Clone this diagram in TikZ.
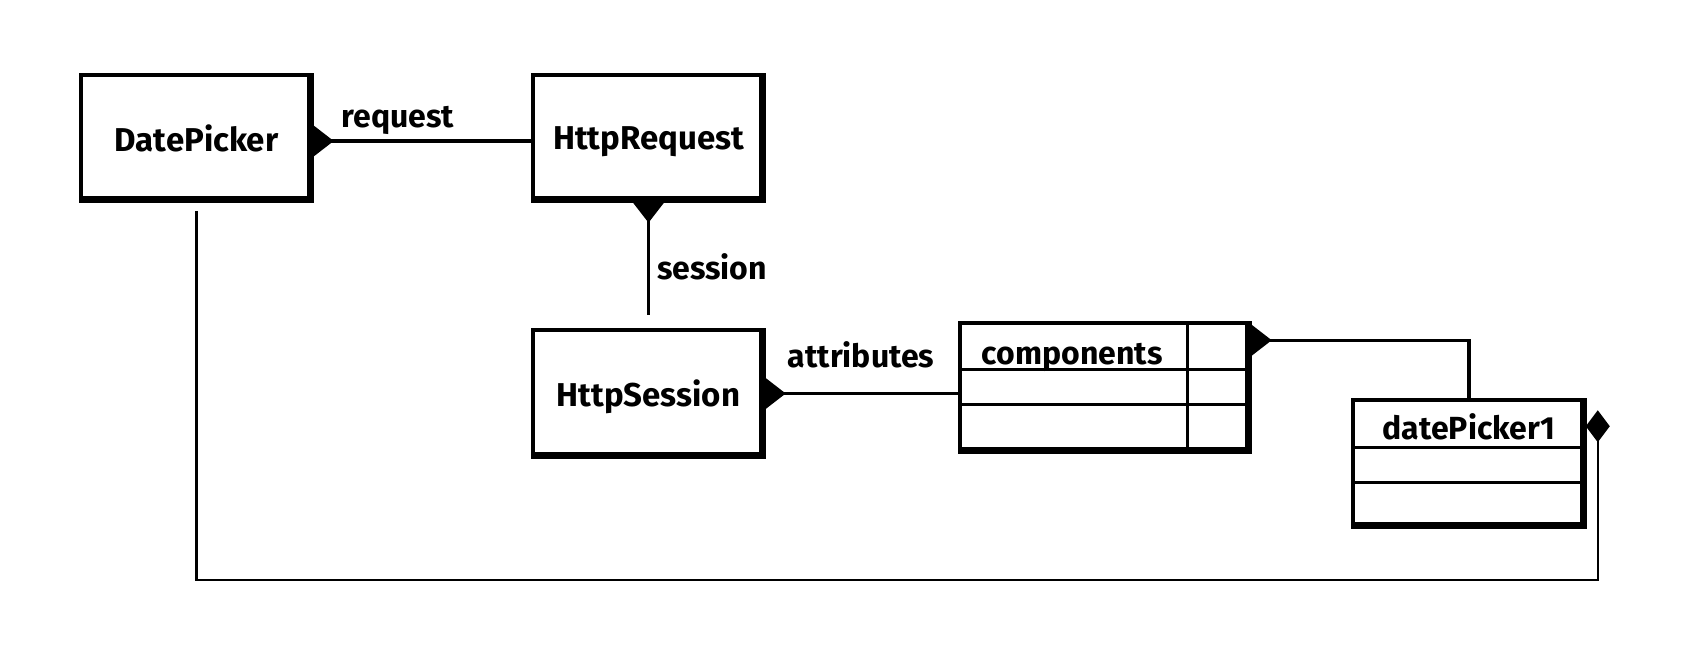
\documentclass[tikz,border=0pt]{standalone}
\usepackage{fontspec}
\setmainfont{Fira Sans}
\usetikzlibrary{arrows.meta}
\tikzset{
 box/.style={draw, line width=3.5pt, minimum width=231pt, minimum height=126pt, inner sep=0pt, text depth=0pt, font=\fontsize{33}{36}\selectfont\bfseries},
 lbl/.style={font=\fontsize{32}{34}\selectfont\bfseries, inner sep=0pt},
 conn/.style={line width=3.5pt},
 outer/.style={line width=2.5pt},
 shade/.style={line width=7pt, line cap=rect},
 rowline/.style={line width=3pt},
 tri/.style={{Triangle[reversed,length=20pt,width=30pt]}-},
 dia/.style={-{Diamond[length=32pt,width=24pt]}},
}
\begin{document}
\begin{tikzpicture}[x=1pt,y=-1pt]
\useasboundingbox (0,0) rectangle (1687,658);
\fill[white] (0,0) rectangle (1687,658);
% boxes
\node[box] (dp) at (196.5,138) {DatePicker};
\node[box] (hreq) at (648.5,138) {HttpRequest};
\node[box, minimum height=127pt] (hses) at (648.5,393.5) {HttpSession};
\node[box, minimum width=290pt, minimum height=129pt] (comp) at (1105,387.5) {};
\node[box, minimum width=232pt, minimum height=127pt] (dp1) at (1469,463.5) {};
\foreach \n in {dp,hreq,hses,comp,dp1}
  \draw[shade] ([xshift=-3pt,yshift=-3pt]\n.north east) -- ([xshift=-3pt,yshift=3pt]\n.south east) -- ([xshift=3pt,yshift=3pt]\n.south west);
% table internals
\draw[rowline] ([yshift=-48pt]comp.north west) -- ([yshift=-48pt]comp.north east);
\draw[rowline] ([yshift=-83pt]comp.north west) -- ([yshift=-83pt]comp.north east);
\draw[rowline] ([xshift=229pt]comp.north west) -- ([xshift=229pt]comp.south west);
\node[lbl, anchor=base] (comptxt) at ([xshift=114pt,yshift=-43pt]comp.north west) {components};
\draw[rowline] ([yshift=-49pt]dp1.north west) -- ([yshift=-49pt]dp1.north east);
\draw[rowline] ([yshift=-84pt]dp1.north west) -- ([yshift=-84pt]dp1.north east);
\node[lbl, anchor=base] (dp1txt) at ([yshift=-41pt]dp1.north) {datePicker1};
% connectors
\draw[conn, tri] ([yshift=-3pt]dp.east) -- ([yshift=-3pt]hreq.west);
\node[lbl] (lreq) at (398,120) {request};
\draw[conn, tri] (hreq.south) -- ([yshift=13pt]hses.north);
\node[lbl] (lses) at (712,267) {session};
\draw[conn, tri] (hses.east) -- (hses.east -| comp.west);
\node[lbl] (latt) at (861,355) {attributes};
\draw[conn, tri] ([yshift=-19pt]comp.north east) -| (dp1.north);
\coordinate (dk) at ([xshift=11pt,yshift=-12pt]dp1.north east);
\draw[outer, dia] ([yshift=-8pt]dp.south) -- ++(0,369) -| (dk);
\end{tikzpicture}
\end{document}
